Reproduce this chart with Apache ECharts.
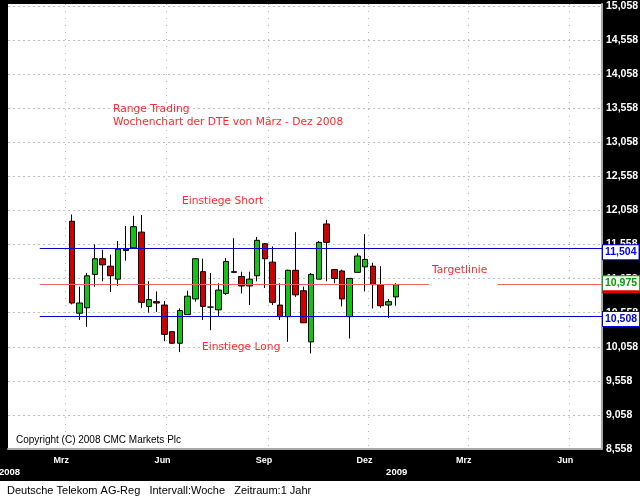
<!DOCTYPE html>
<html><head><meta charset="utf-8">
<script src="https://cdn.jsdelivr.net/npm/echarts@6/dist/echarts.min.js"></script>
<style>html,body{margin:0;padding:0;background:#fff}#c{width:640px;height:500px}</style>
</head><body><div id="c"></div>
<script>
// Weekly candles (Friday dates), DTE Mar - Dec 2008
const weekDates = ['2008-03-07','2008-03-14','2008-03-21','2008-03-28','2008-04-04','2008-04-11','2008-04-18','2008-04-25',
 '2008-05-02','2008-05-09','2008-05-16','2008-05-23','2008-05-30','2008-06-06','2008-06-13','2008-06-20','2008-06-27',
 '2008-07-04','2008-07-11','2008-07-18','2008-07-25','2008-08-01','2008-08-08','2008-08-15','2008-08-22','2008-08-29',
 '2008-09-05','2008-09-12','2008-09-19','2008-09-26','2008-10-03','2008-10-10','2008-10-17','2008-10-24','2008-10-31',
 '2008-11-07','2008-11-14','2008-11-21','2008-11-28','2008-12-05','2008-12-12','2008-12-19','2008-12-26'];
const openVals  = [11.90,10.55,10.63,11.12,11.35,11.24,11.05,11.47,11.51,11.74,10.65,10.72,10.67,10.28,10.11,10.53,10.76,11.16,10.64,10.60,10.84,11.15,11.09,10.95,11.10,11.57,11.30,10.67,10.50,11.18,10.88,10.13,11.05,11.86,11.19,11.17,10.50,11.15,11.23,11.24,10.97,10.67,10.79];
const closeVals = [10.70,10.70,11.10,11.35,11.26,11.10,11.49,11.49,11.82,10.71,10.75,10.70,10.24,10.11,10.59,10.80,11.35,10.65,10.64,10.89,11.31,11.16,10.95,11.05,11.62,11.35,10.71,10.50,11.18,10.82,10.41,11.12,11.59,11.59,11.06,10.76,11.06,11.39,11.34,10.97,10.66,10.72,10.97];
const lowVals   = [10.68,10.45,10.35,10.94,11.02,10.86,10.95,11.32,11.50,10.63,10.56,10.57,10.14,10.10,9.98,10.53,10.72,10.45,10.30,10.50,10.82,11.14,10.84,10.67,11.02,10.92,10.67,10.45,10.13,10.79,10.41,9.96,11.05,11.02,10.99,10.65,10.18,11.15,10.87,10.62,10.63,10.48,10.66];
const highVals  = [12.00,10.94,11.14,11.56,11.48,11.41,11.61,11.83,11.98,11.99,11.02,10.87,10.73,10.28,10.62,10.88,11.36,11.35,11.14,10.99,11.36,11.65,11.16,11.16,11.67,11.58,11.53,10.99,11.19,11.74,10.94,11.14,11.61,11.92,11.19,11.19,11.07,11.43,11.71,11.29,11.24,10.76,10.99];

// Horizontal levels
const shortLevel = 11.504, targetLevel = 10.975, longLevel = 10.508;

// Axis ticks
const yTicks = [8.558,9.058,9.558,10.058,10.558,11.058,11.558,12.058,12.558,13.058,13.558,14.058,14.558,15.058];
const monthTickDates = ['2008-03-01','2008-06-01','2008-09-01','2008-12-01','2009-03-01','2009-06-01'];
const monthNames = ['Mrz','Jun','Sep','Dez','Mrz','Jun'];
const yearTickDates = ['2008-01-16','2009-01-01'];
const yearNames = ['2008','2009'];

const base = Date.UTC(2008,0,1);
function dayNum(s){const p=s.split('-');return (Date.UTC(+p[0],+p[1]-1,+p[2])-base)/86400000;}
const xMin = 8.2, xMax = 546.7;
const monthTicks = monthTickDates.map(dayNum);
const yearTicks = yearTickDates.map(dayNum);
const fmt = v => Number(v).toFixed(3).replace('.', ',');

const candleData = weekDates.map((d,i)=>[dayNum(d), openVals[i], closeVals[i], lowVals[i], highVals[i]]);
const lineStart = dayNum('2008-02-07');
const gapStart = dayNum('2009-01-25'), gapEnd = dayNum('2009-03-28');

const boxLabel = (level, color, border, dy, shadow) => ({
  show: true, position: 'end', distance: 1, formatter: () => fmt(level), offset: [0, dy],
  color: color, fontFamily: 'Liberation Sans', fontWeight: 'bold', fontSize: 10.5,
  backgroundColor: '#fff', borderColor: border, borderWidth: 1, padding: [2, 2, 1, 2],
  shadowColor: shadow || 'transparent', shadowOffsetY: shadow ? 2 : 0, shadowBlur: 0
});

const chart = echarts.init(document.getElementById('c'), null, {renderer: 'canvas'});
chart.setOption({
  backgroundColor: '#000',
  animation: false,
  grid: {left: 8, top: 4, right: 38, bottom: 51, show: true, backgroundColor: '#fff', borderWidth: 0, containLabel: false, outerBoundsMode: 'none'},
  xAxis: [{
    type: 'value', min: xMin, max: xMax, position: 'bottom',
    axisLine: {show: true, lineStyle: {color: '#a8a8a8', width: 2}},
    axisTick: {show: false, customValues: monthTicks},
    axisLabel: {customValues: monthTicks, margin: 7, color: '#fff', fontFamily: 'Liberation Sans', fontWeight: 'bold', fontSize: 9,
      padding: [0, 8, 0, 0], formatter: v => monthNames[monthTicks.indexOf(v)] || ''},
    splitLine: {show: true, lineStyle: {color: '#b4b4b4', type: [1, 6], width: 1}}
  }, {
    type: 'value', min: xMin, max: xMax, position: 'bottom',
    axisLine: {show: false}, axisTick: {show: false, customValues: yearTicks},
    axisLabel: {customValues: yearTicks, margin: 18, color: '#fff', fontFamily: 'Liberation Sans', fontWeight: 'bold', fontSize: 9.5,
      padding: [0, 12, 0, 0], formatter: v => yearNames[yearTicks.indexOf(v)] || ''},
    splitLine: {show: false}
  }],
  yAxis: {
    type: 'value', position: 'right', min: 8.558, max: 15.0875, scale: true,
    axisLine: {show: true, lineStyle: {color: '#a8a8a8', width: 2}},
    axisTick: {show: false, customValues: yTicks},
    axisLabel: {customValues: yTicks, margin: 4, color: '#fff', fontFamily: 'Liberation Sans', fontWeight: 'bold', fontSize: 10.5, formatter: fmt},
    splitLine: {show: true, lineStyle: {color: '#c0c0c0', type: [2, 3], width: 1}}
  },
  series: [{
    type: 'candlestick',
    data: candleData,
    encode: {x: 0, y: [1, 2, 3, 4]},
    barWidth: 6,
    itemStyle: {color: '#14c214', color0: '#d00000', borderColor: '#000', borderColor0: '#000', borderColorDoji: '#000', borderWidth: 1},
    markLine: {
      silent: true, symbol: ['none', 'none'], animation: false,
      data: [
        [{coord: [lineStart, shortLevel], lineStyle: {color: '#0000d0', width: 1.2, type: 'solid'}},
         {coord: [xMax, shortLevel], label: boxLabel(shortLevel, '#0000e0', '#0000e0', 4)}],
        [{coord: [lineStart, longLevel], lineStyle: {color: '#0000d0', width: 1.2, type: 'solid'}},
         {coord: [xMax, longLevel], label: boxLabel(longLevel, '#0000e0', '#0000e0', 3)}],
        [{coord: [lineStart, targetLevel], lineStyle: {color: '#f06060', width: 1, type: 'solid'}, label: {show: false}},
         {coord: [gapStart, targetLevel], label: {show: false}}],
        [{coord: [gapEnd, targetLevel], lineStyle: {color: '#f06060', width: 1, type: 'solid'}},
         {coord: [xMax, targetLevel], label: boxLabel(targetLevel, '#00a000', '#00b000', -1, '#e00000')}]
      ]
    }
  }],
  graphic: [
    {type: 'rect', shape: {x: 0, y: 481, width: 640, height: 19}, style: {fill: '#fff'}, z: 10},
    {type: 'text', x: 7, y: 485, style: {text: 'Deutsche Telekom AG-Reg   Intervall:Woche   Zeitraum:1 Jahr', fill: '#000', font: '11px "Liberation Sans"'}, z: 11},
    {type: 'text', x: 113, y: 104, style: {text: 'Range Trading', fill: '#ff2a2a', font: '10.7px "DejaVu Sans"'}, z: 11},
    {type: 'text', x: 113, y: 117, style: {text: 'Wochenchart der DTE von März - Dez 2008', fill: '#ff2a2a', font: '10.7px "DejaVu Sans"'}, z: 11},
    {type: 'text', x: 182, y: 196, style: {text: 'Einstiege Short', fill: '#ff2a2a', font: '10.7px "DejaVu Sans"'}, z: 11},
    {type: 'text', x: 202, y: 342, style: {text: 'Einstiege Long', fill: '#ff2a2a', font: '10.7px "DejaVu Sans"'}, z: 11},
    {type: 'text', x: 432, y: 265, style: {text: 'Targetlinie', fill: '#ff2a2a', font: '10.7px "DejaVu Sans"'}, z: 11},
    {type: 'text', x: 16, y: 435, style: {text: 'Copyright (C) 2008 CMC Markets Plc', fill: '#000', font: '10px "Liberation Sans"'}, z: 11}
  ]
});
</script></body></html>
